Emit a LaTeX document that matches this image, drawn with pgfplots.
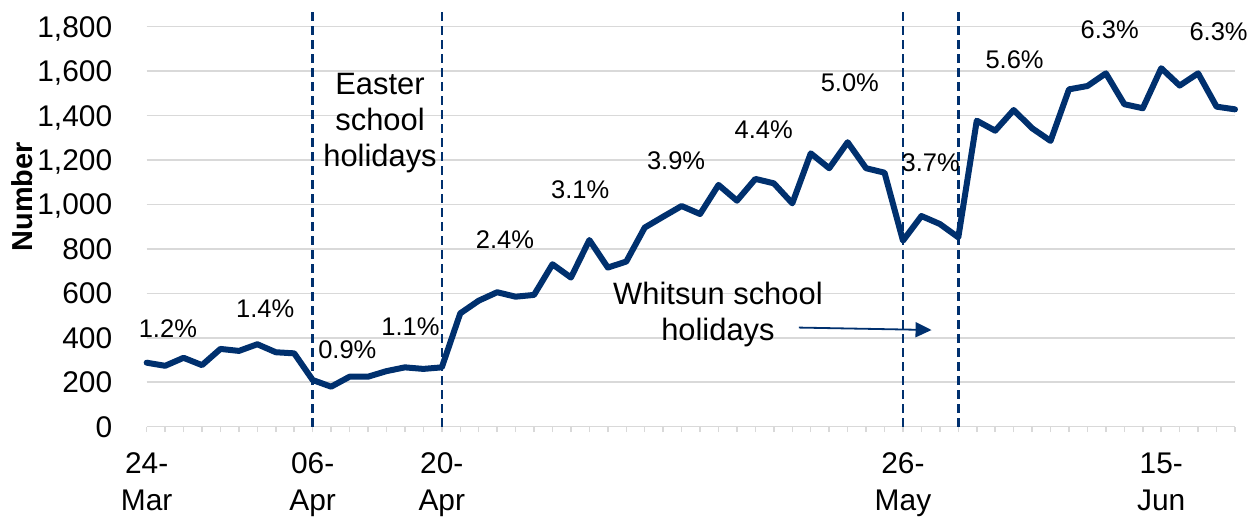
\documentclass[border=0pt]{standalone}
\usepackage{fontspec}
\setmainfont{Liberation Sans}
\usepackage{pgfplots}
\pgfplotsset{compat=1.18}
\usetikzlibrary{arrows.meta}
\definecolor{navy}{RGB}{0,48,110}
\definecolor{gridgray}{RGB}{217,217,217}
\newcommand\tk{\fontsize{15}{18.5}\selectfont}
\newcommand\pc{\fontsize{12.8}{15}\selectfont}
\newcommand\an{\fontsize{15.5}{18}\selectfont}

\pgfplotstableread{
x y
0 288
1 274
2 310
3 277
4 350
5 341
6 371
7 335
8 330
9 210
10 180
11 225
12 225
13 250
14 267
15 260
16 267
17 510
18 567
19 605
20 585
21 593
22 731
23 671
24 840
25 716
26 743
27 896
28 945
29 993
30 957
31 1088
32 1017
33 1115
34 1095
35 1005
36 1230
37 1163
38 1280
39 1163
40 1143
41 837
42 948
43 912
44 852
45 1377
46 1332
47 1425
48 1343
49 1286
50 1518
51 1533
52 1590
53 1451
54 1433
55 1613
56 1535
57 1590
58 1440
59 1428
}\datatable

\begin{document}
\begin{tikzpicture}
\begin{axis}[
 scale only axis, width=544.15bp, height=200bp,
 xmin=0, xmax=59, ymin=0, ymax=1800,
 axis lines*=left,
 x axis line style={draw=gridgray, line width=0.75bp},
 y axis line style={draw=none},
 ytick={0,200,...,1800},
 yticklabels={0,200,400,600,800,{1,000},{1,200},{1,400},{1,600},{1,800}},
 ymajorgrids, grid style={draw=gridgray, line width=0.75bp},
 xtick={0,9,16,41,55},
 xticklabels={{24-\\Mar},{06-\\Apr},{20-\\Apr},{26-\\May},{15-\\Jun}},
 minor xtick={0,...,59},
 tick style={draw=gridgray, line width=0.75bp},
 ytick style={draw=none},
 tick align=outside,
 major tick length=2.75bp, minor tick length=2.75bp,
 xticklabel style={font=\tk, align=center, anchor=north, inner sep=0pt, yshift=-10bp},
 yticklabel style={font=\tk, anchor=east, inner sep=0pt, xshift=-14.3bp, text depth=0pt},
 clip=false,
]
\addplot[navy, line width=1.2bp, dash pattern=on 4.2bp off 2.8bp] coordinates {(9,0) (9,1866)};
\addplot[navy, line width=1.2bp, dash pattern=on 4.2bp off 2.8bp] coordinates {(16,0) (16,1866)};
\addplot[navy, line width=1.2bp, dash pattern=on 4.2bp off 2.8bp] coordinates {(41,0) (41,1866)};
\addplot[navy, line width=1.2bp, dash pattern=on 4.2bp off 2.8bp] coordinates {(44,0) (44,1866)};
\addplot[navy, line width=3bp, line join=round, line cap=round, mark=none] table[x=x,y=y] {\datatable};

\node[font=\pc] at (axis cs:1.15,443) {1.2\%};
\node[font=\pc] at (axis cs:6.43,533) {1.4\%};
\node[font=\pc] at (axis cs:10.88,348) {0.9\%};
\node[font=\pc] at (axis cs:14.30,450) {1.1\%};
\node[font=\pc] at (axis cs:19.42,840) {2.4\%};
\node[font=\pc] at (axis cs:23.50,1068) {3.1\%};
\node[font=\pc] at (axis cs:28.70,1196) {3.9\%};
\node[font=\pc] at (axis cs:33.45,1335) {4.4\%};
\node[font=\pc] at (axis cs:38.12,1547) {5.0\%};
\node[font=\pc] at (axis cs:42.50,1187) {3.7\%};
\node[font=\pc] at (axis cs:47.05,1650) {5.6\%};
\node[font=\pc] at (axis cs:52.21,1785) {6.3\%};
\node[font=\pc] at (axis cs:58.11,1778) {6.3\%};

\node[font=\an, align=center, inner sep=0pt] at (axis cs:12.65,1367) {Easter\\school\\holidays};
\node[font=\an, align=center, inner sep=0pt] at (axis cs:30.97,503) {Whitsun school\\holidays};
\draw[navy, line width=0.9bp, -{Triangle[length=8bp,width=7.5bp]}] (axis cs:35.36,446) -- (axis cs:42.55,435);

\node[rotate=90, font=\bfseries\fontsize{14.5}{16}\selectfont] at (axis cs:-6.76,1034) {Number};

\coordinate (bbA) at (axis cs:-7.951,-419.9);
\coordinate (bbB) at (axis cs:60.355,1920);
\end{axis}
\pgfresetboundingbox
\path[use as bounding box] (bbA) rectangle (bbB);
\end{tikzpicture}
\end{document}
